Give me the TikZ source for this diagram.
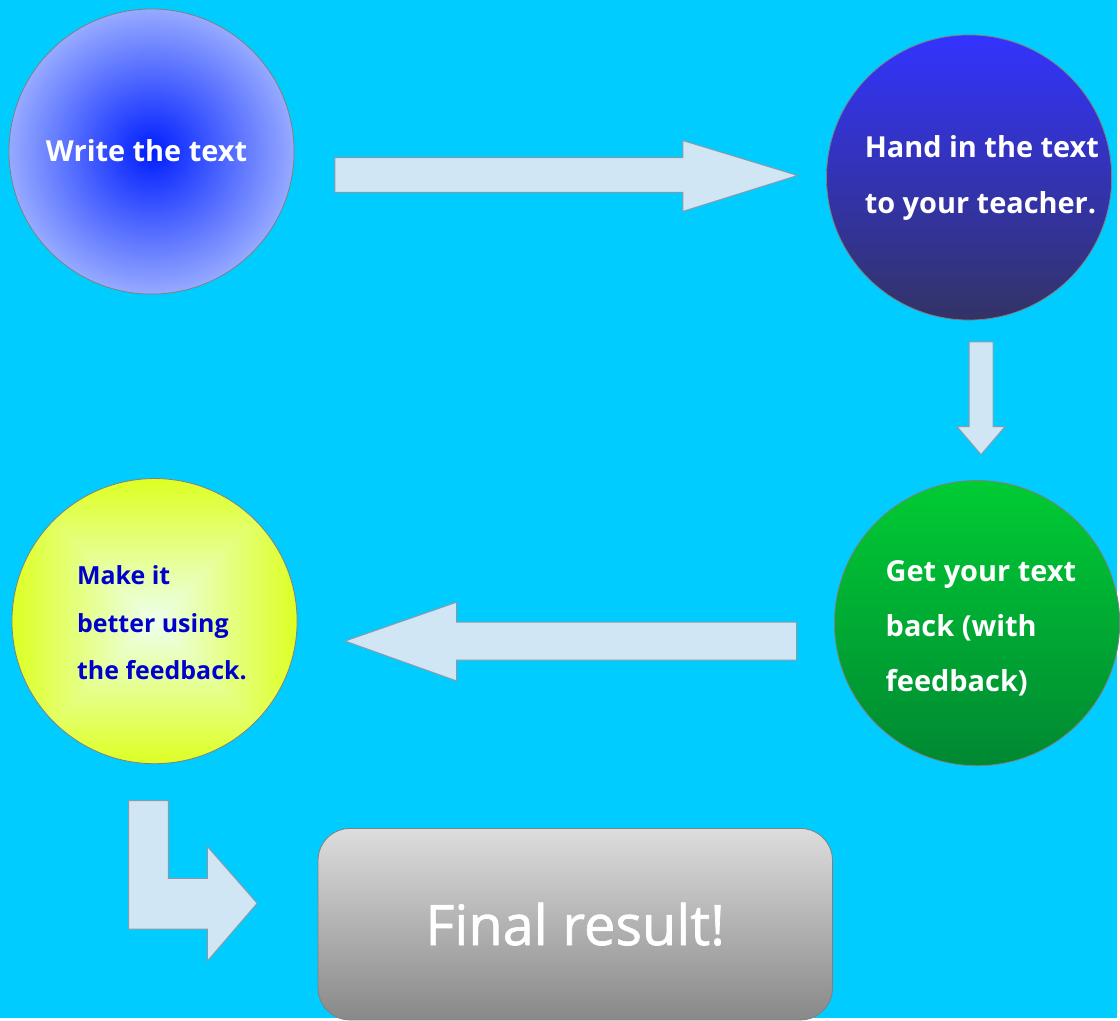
\documentclass[tikz,border=0pt]{standalone}
\usepackage{fontspec}
\setmainfont{Open Sans}
\newfontfamily\semifont{Open Sans}[FakeBold=1.2]
\usetikzlibrary{calc}
\definecolor{sky}{HTML}{00CCFF}
\definecolor{arrowfill}{HTML}{D0E6F4}
\definecolor{arrowline}{HTML}{8A9AA8}
\definecolor{rim}{HTML}{808080}
\definecolor{inkblue}{HTML}{0000CC}
\pgfdeclarefunctionalshading{squares}{\pgfpoint{-50bp}{-50bp}}{\pgfpoint{50bp}{50bp}}{}{
  abs exch abs 2 copy lt {exch} if pop
  25 div dup 1 gt {pop 1} if
  dup -0.063 mul 0.93 add
  exch 1 exch
  -0.797 mul 0.93 add
}
\tikzset{
  bubble/.style={circle, draw=rim, line width=0.4pt, minimum size=143pt, inner sep=0pt},
  blockarrow/.style={draw=arrowline, fill=arrowfill, line width=0.5pt},
  say/.style={anchor=base west, align=left, inner sep=0pt, text=white, font=\bfseries\fontsize{14.5}{28}\selectfont}
}

\begin{document}
\begin{tikzpicture}[x=0.5pt,y=-0.5pt]
	%%%%% START %%%%%
	
	\fill[sky] (0,0) rectangle (1120,1021);
	
	\node[bubble, inner color={rgb,255:red,0;green,30;blue,255}, outer color={rgb,255:red,150;green,170;blue,255}] (write) at (152,152) {};
	\node[say, anchor=base] (writetxt) at (147,162) {Write the text};
	
	\node[bubble, top color={rgb,255:red,51;green,51;blue,255}, bottom color={rgb,255:red,51;green,51;blue,102}] (hand) at (972,178) {};
	\node[say] (handtxt) at (867,214) {Hand in the text\\to your teacher.};
	
	\node[bubble, top color={rgb,255:red,0;green,204;blue,51}, bottom color={rgb,255:red,0;green,136;blue,51}] (back) at (980,625) {};
	\node[say, font=\bfseries\fontsize{14.5}{27.75}\selectfont] (backtxt) at (888,694) {Get your text\\back (with\\feedback)};
	
	\node[bubble, shading=squares] (better) at (155,623) {};
	\node[say, text=inkblue, font=\bfseries\fontsize{12.5}{24}\selectfont] (bettertxt) at (77,682) {Make it\\better using\\the feedback.};
	
	\draw[blockarrow] (336,158) -- (685,158) -- (685,141) -- (800,176) -- (685,212) -- (685,193) -- (336,193) -- cycle;
	\draw[blockarrow] (972,343) -- (996,343) -- (996,428) -- (1008,428) -- (984,456) -- (960,428) -- (972,428) -- cycle;
	\draw[blockarrow] (799,624) -- (458,624) -- (458,604) -- (346,643) -- (458,683) -- (458,662) -- (799,662) -- cycle;
	\draw[blockarrow] (129,803) -- (169,803) -- (169,881) -- (208,881) -- (208,849) -- (258,906) -- (208,964) -- (208,932) -- (129,932) -- cycle;
	
	\node[draw=rim, rounded corners=16pt, top color={rgb,255:red,221;green,221;blue,221}, bottom color={rgb,255:red,136;green,136;blue,136}, minimum width=258pt, minimum height=96pt, text=white, font=\semifont\fontsize{28}{34}\selectfont] (final) at (577,927) {Final result!};
	
	%%%%% END %%%%%
\end{tikzpicture}
\end{document}
